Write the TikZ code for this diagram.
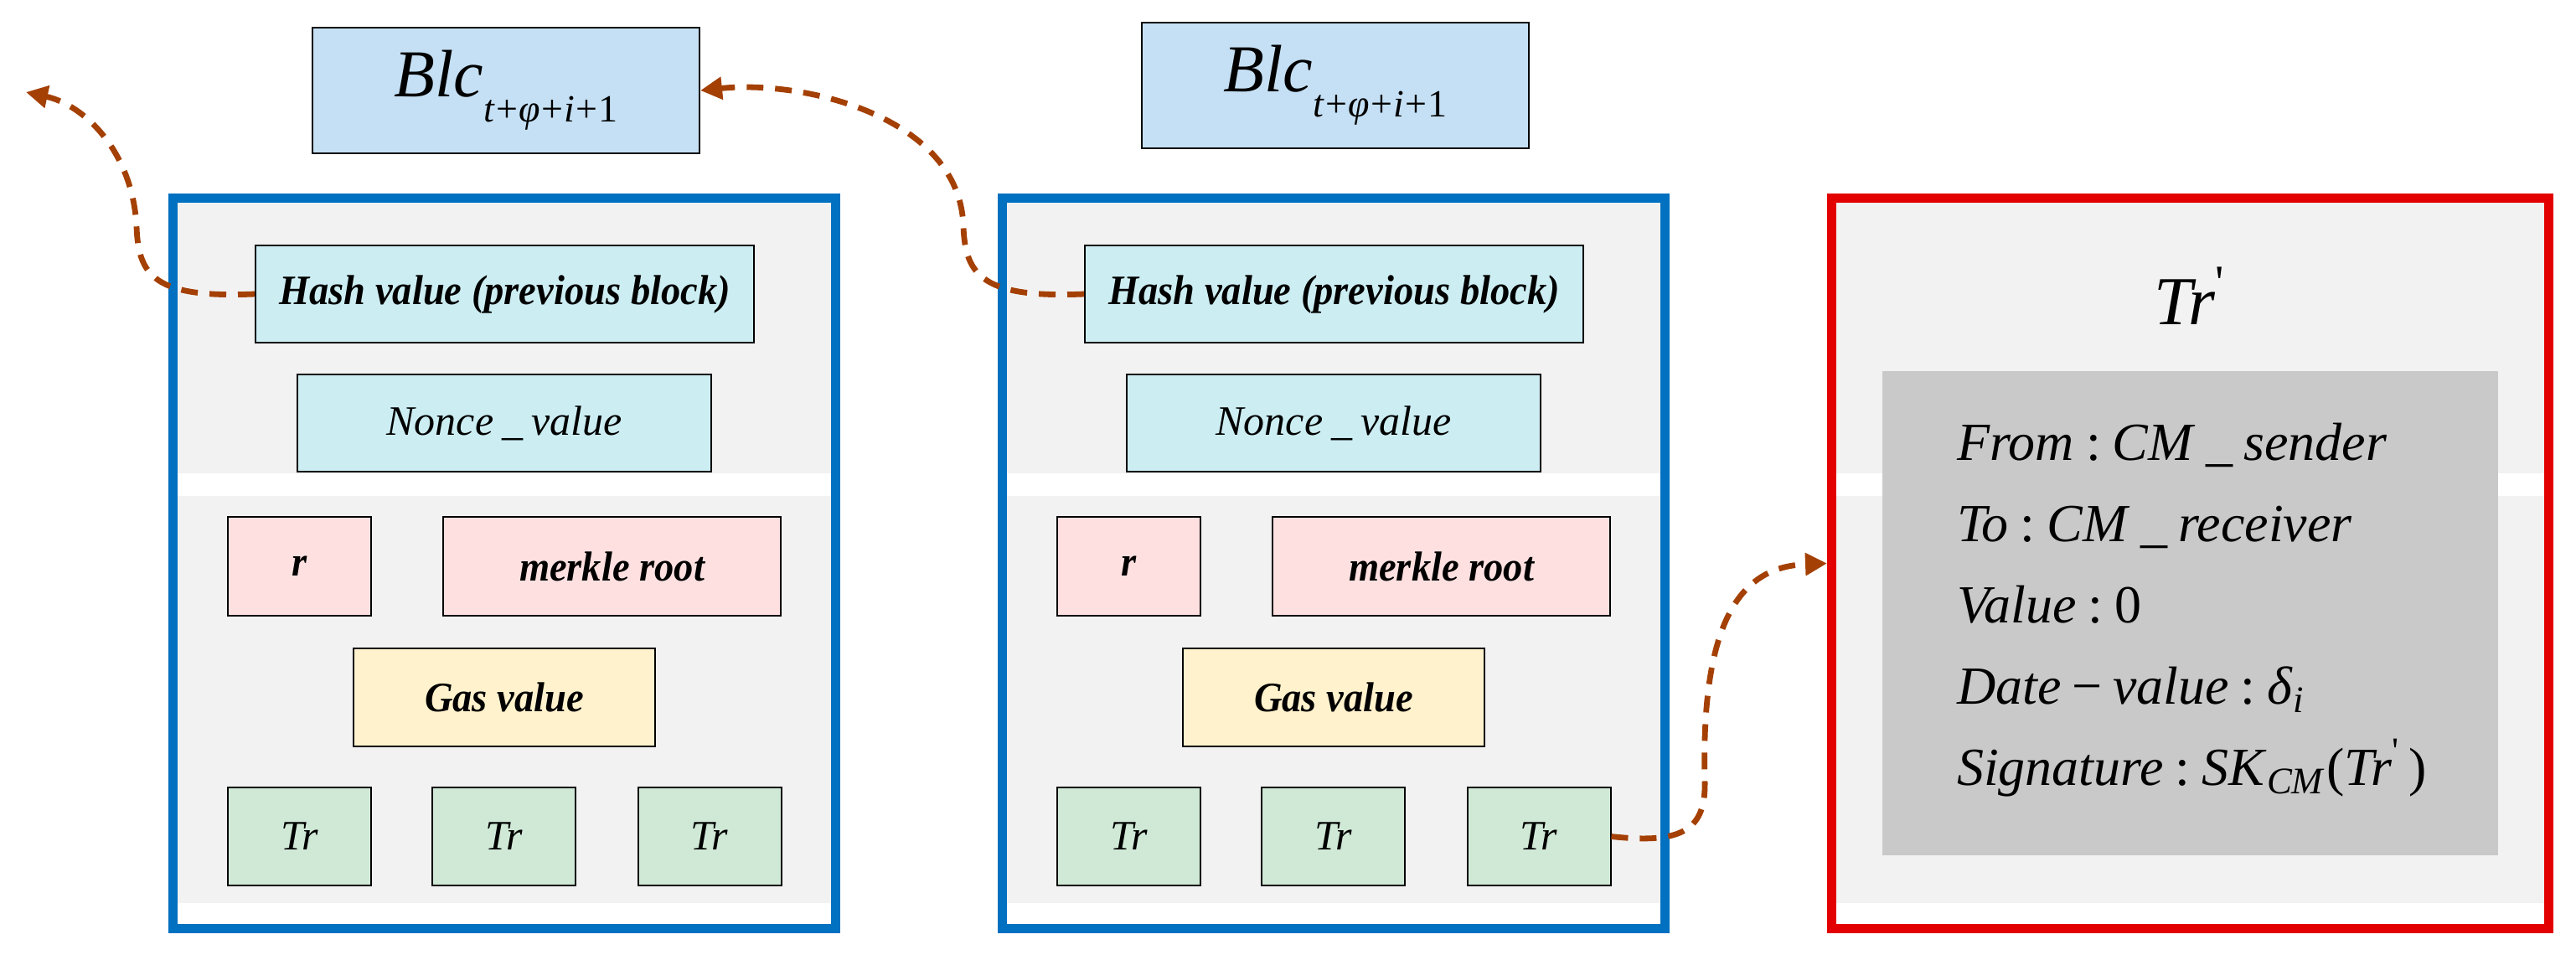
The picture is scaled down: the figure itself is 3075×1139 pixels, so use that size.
\documentclass[tikz,border=0pt]{standalone}
\usepackage{fontspec}
\setmainfont{Liberation Serif}
\usetikzlibrary{arrows.meta}

\definecolor{chainblue}{RGB}{0,112,192}
\definecolor{txred}{RGB}{226,0,0}
\definecolor{band}{RGB}{242,242,242}
\definecolor{blcfill}{RGB}{197,224,244}
\definecolor{hashfill}{RGB}{204,238,243}
\definecolor{rootfill}{RGB}{255,224,224}
\definecolor{gasfill}{RGB}{255,242,204}
\definecolor{trfill}{RGB}{208,233,214}
\definecolor{fieldfill}{RGB}{201,201,201}
\definecolor{linkbrown}{RGB}{164,64,4}

\newcommand{\tcolon}{\kern.22em:\kern.22em}
\newcommand{\tunder}{\kern.2em\_\kern.2em}
\newcommand{\bitext}[1]{\scalebox{0.93}[1]{\bfseries\itshape #1}}
\newcommand{\blcname}{\textit{Blc}\raisebox{-7.5pt}{\fontsize{11.5}{11.5}\selectfont
  \textit{t}\kern.3pt+\kern.3pt\textit{φ}\kern.3pt+\kern.3pt\textit{i}\kern.3pt+\kern.3pt1}}

\begin{document}
\begin{tikzpicture}[x=0.25pt,y=-0.25pt,>=Stealth,
  wh/.style 2 args={minimum width=#1*0.25pt,minimum height=#2*0.25pt},
  cell/.style={draw=black,line width=0.5pt,inner sep=0pt,font=\fontsize{12.5}{15}\selectfont},
  itxt/.style={font=\fontsize{12.5}{15}\selectfont\itshape},
  field/.style={anchor=base west,font=\fontsize{16}{19}\selectfont},
  blockframe/.style={draw=chainblue,line width=2.75pt,wh={791}{872}},
  link/.style={draw=linkbrown,line width=1.7pt,dash pattern=on 5pt off 3.5pt,
    -{Triangle[length=6.5pt,width=6.5pt]}}]
  \useasboundingbox (0,0) rectangle (3075,1139);

  % the two blocks of the chain
  \foreach \b/\dx in {A/0,B/990}{
    \fill[band] (\dx+212,242) rectangle (\dx+992,565);
    \fill[band] (\dx+212,592) rectangle (\dx+992,1078);
    \node[blockframe] (frame\b) at (\dx+602,672.5) {};
    \node[cell,fill=hashfill,wh={595}{116}] (hash\b) at (\dx+602.5,351) {\bitext{Hash value (previous block)}};
    \node[cell,itxt,fill=hashfill,wh={494}{116}] (nonce\b) at (\dx+602,505) {Nonce\tunder value};
    \node[cell,fill=rootfill,wh={171}{118}] (r\b) at (\dx+357.5,676) {\bitext{r}};
    \node[cell,fill=rootfill,wh={403}{118}] (root\b) at (\dx+730.5,676) {\bitext{merkle root}};
    \node[cell,fill=gasfill,wh={360}{117}] (gas\b) at (\dx+602,832.5) {\bitext{Gas value}};
    \foreach \k/\tx in {1/357.5,2/601.5,3/847}
      \node[cell,itxt,fill=trfill,wh={171}{117}] (tr\b\k) at (\dx+\tx,998.5) {Tr};
  }
  \node[cell,fill=blcfill,wh={462}{150},font=\fontsize{20}{20}\selectfont] (blcA) at (604,108) {\blcname};
  \node[cell,fill=blcfill,wh={462}{150},font=\fontsize{20}{20}\selectfont] (blcB) at (1594,102) {\blcname};

  % the new transaction
  \fill[band] (2192,242) rectangle (3037,565);
  \fill[band] (2192,592) rectangle (3037,1078);
  \node[draw=txred,line width=2.75pt,wh={856}{872}] (trframe) at (2614.5,672.5) {};
  \node[anchor=base,font=\fontsize{20.5}{24}\selectfont] (trhead) at (2614,387) {\textit{Tr}\textsuperscript{\textquotesingle}};
  \node[fill=fieldfill,inner sep=0pt,wh={735}{578}] (fields) at (2614.5,732) {};
  \node[field] (from) at (2322,549) {\textit{From}\tcolon\textit{CM}\tunder\textit{sender}};
  \node[field] (to) at (2322,646) {\textit{To}\tcolon\textit{CM}\tunder\textit{receiver}};
  \node[field] (val) at (2322,743) {\textit{Value}\tcolon 0};
  \node[field] (date) at (2322,840) {\textit{Date}\kern.2em−\kern.2em\textit{value}\tcolon\textit{δ}\textsubscript{\textit{i}}};
  \node[field] (sig) at (2322,937) {\textit{Signature}\tcolon\textit{SK}\textsubscript{\textit{CM}}(\textit{Tr}\textsuperscript{\textquotesingle}\kern.15em)};

  % links
  \coordinate (older) at (31,110);
  \draw[link] (hashA.west) .. controls (185,356) and (165,330) .. (163,270)
    .. controls (158,180) and (100,125) .. (older);
  \draw[link] (hashB.west) .. controls (1175,356) and (1152,330) .. (1150,270)
    .. controls (1146,140) and (960,95) .. (blcA.east);
  \draw[link] (trB3.east) .. controls (2010,1008) and (2037,990) .. (2035,930)
    .. controls (2030,720) and (2090,676) .. (trframe.west);
\end{tikzpicture}
\end{document}
